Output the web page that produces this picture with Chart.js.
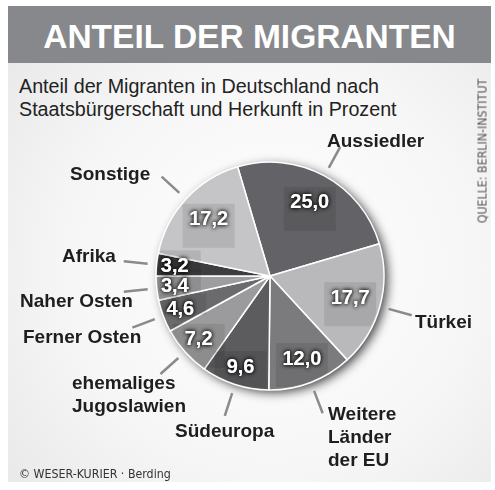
<!DOCTYPE html>
<html>
<head>
<meta charset="utf-8">
<script src="https://cdn.jsdelivr.net/npm/chart.js@4.4.0/dist/chart.umd.min.js"></script>
<style>
  body { margin: 0; width: 495px; height: 490px; overflow: hidden; background: #fff; font-family: "Liberation Sans", Arial, sans-serif; }
  #panel { position: absolute; left: 8px; top: 6px; width: 483px; height: 476px;
    background: radial-gradient(circle at 55% 55%, #ffffff 0%, #f6f6f6 55%, #e6e6e6 100%); }
  #band { position: absolute; left: 8px; top: 6px; width: 483px; height: 57px; background: #87888c; }
  #title { position: absolute; left: 8px; top: 20px; width: 483px; text-align: center; color: #fff;
    font: bold 33.5px/33px "Liberation Sans", Arial, sans-serif; }
  #subtitle { position: absolute; left: 19px; top: 75px; color: #222; font: 19.7px/23px "Liberation Sans", Arial, sans-serif; }
  #source { position: absolute; left: 409.5px; top: 143.5px; width: 145px; height: 14px; text-align: center; color: #555;
    font: 12.3px/14px "Liberation Sans Narrow", "DejaVu Sans Condensed", sans-serif; transform: rotate(-90deg); white-space: nowrap; }
  #footer { position: absolute; left: 19px; top: 467px; color: #333; font: 12.3px/14px "Liberation Sans Narrow", "DejaVu Sans Condensed", sans-serif; }
  #wrap { position: absolute; left: 0; top: 0; width: 495px; height: 490px; }
</style>
</head>
<body>
<div id="panel"></div>
<div id="band"></div>
<div id="title">ANTEIL DER MIGRANTEN</div>
<div id="subtitle">Anteil der Migranten in Deutschland nach<br>Staatsbürgerschaft und Herkunft in Prozent</div>
<div id="wrap"><canvas id="chart1"></canvas></div>
<div id="source">QUELLE: BERLIN-INSTITUT</div>
<div id="footer">© WESER-KURIER · Berding</div>
<script>
// Daten (Prozent), im Uhrzeigersinn ab Aussiedler
const categories = ["Aussiedler", "Türkei", ["Weitere", "Länder", "der EU"], "Südeuropa",
  ["ehemaliges", "Jugoslawien"], "Ferner Osten", "Naher Osten", "Afrika", "Sonstige"];
const shares = [25.0, 17.7, 12.0, 9.6, 7.2, 4.6, 3.4, 3.2, 17.2];

const sliceColors = ["#636367", "#b9b9bb", "#7b7b7e", "#5c5c5f", "#9b9b9d", "#6b6b6d", "#9d9d9f", "#3d3d40", "#c5c5c7"];
// Position der Beschriftungen (links, Grundlinie der ersten Zeile)
const labelPos = [
  [327, 147], [415, 328], [328, 420], [175, 437], [72, 389], [23, 343], [20, 307], [62, 262], [70, 180]
];

const fmt = (v) => v.toFixed(1).replace(".", ",");

const pieDecor = {
  id: "pieDecor",
  beforeDatasetsDraw(chart) {
    const a = chart.getDatasetMeta(0).data[0];
    const { x, y, outerRadius } = a.getProps(["x", "y", "outerRadius"], true);
    const ctx = chart.ctx;
    ctx.save();
    ctx.shadowColor = "rgba(0,0,0,0.8)";
    ctx.shadowBlur = 11;
    ctx.shadowOffsetX = 4;
    ctx.shadowOffsetY = 3;
    ctx.fillStyle = "#555";
    ctx.beginPath();
    ctx.arc(x, y, outerRadius - 1, 0, Math.PI * 2);
    ctx.fill();
    ctx.restore();
  },
  afterDatasetsDraw(chart) {
    const ctx = chart.ctx;
    const arcs = chart.getDatasetMeta(0).data;
    arcs.forEach((arc, i) => {
      const { x, y, startAngle, endAngle, outerRadius } =
        arc.getProps(["x", "y", "startAngle", "endAngle", "outerRadius"], true);
      const mid = (startAngle + endAngle) / 2;
      const cos = Math.cos(mid), sin = Math.sin(mid);

      // Hinweislinie
      ctx.save();
      ctx.strokeStyle = "#8a8a8a";
      ctx.lineWidth = 2.5;
      ctx.beginPath();
      ctx.moveTo(x + cos * (outerRadius + 9), y + sin * (outerRadius + 9));
      ctx.lineTo(x + cos * (outerRadius + 33), y + sin * (outerRadius + 33));
      ctx.stroke();

      // Kategorie
      ctx.fillStyle = "#1e1e1e";
      ctx.font = 'bold 19px "Liberation Sans", Arial, sans-serif';
      ctx.textAlign = "left";
      ctx.textBaseline = "alphabetic";
      const lines = Array.isArray(categories[i]) ? categories[i] : [categories[i]];
      lines.forEach((t, k) => ctx.fillText(t, labelPos[i][0], labelPos[i][1] + k * 23));

      // Wert mit Kasten (auf den Kreis beschnitten)
      const v = shares[i];
      const rf = v >= 15 ? 0.73 : (v >= 10 ? 0.78 : 0.84);
      const tx = x + cos * outerRadius * rf;
      const ty = y + sin * outerRadius * rf;
      ctx.save();
      ctx.beginPath();
      ctx.arc(x, y, outerRadius - 1.5, 0, Math.PI * 2);
      ctx.clip();
      ctx.fillStyle = "rgba(0,0,0,0.09)";
      ctx.fillRect(tx - 26, ty - 16, 52, v >= 7 ? 44 : 21);
      ctx.restore();
      ctx.font = 'bold 20px "Liberation Sans", Arial, sans-serif';
      ctx.textAlign = "center";
      ctx.textBaseline = "middle";
      ctx.shadowColor = "rgba(0,0,0,0.9)";
      ctx.shadowBlur = 4;
      ctx.fillStyle = "#ffffff";
      ctx.fillText(fmt(v), tx, ty);
      ctx.fillText(fmt(v), tx, ty);
      ctx.restore();
    });
  }
};

new Chart(document.getElementById("chart1"), {
  type: "pie",
  data: {
    labels: categories,
    datasets: [{
      data: shares,
      backgroundColor: sliceColors,
      borderColor: "#ffffff",
      borderWidth: 1.5,
      radius: 114
    }]
  },
  options: {
    responsive: true,
    maintainAspectRatio: false,
    animation: false,
    rotation: -16.5,
    layout: { padding: { left: 156, right: 111, top: 162, bottom: 100 } },
    plugins: { legend: { display: false }, tooltip: { enabled: false } }
  },
  plugins: [pieDecor]
});
</script>
</body>
</html>
